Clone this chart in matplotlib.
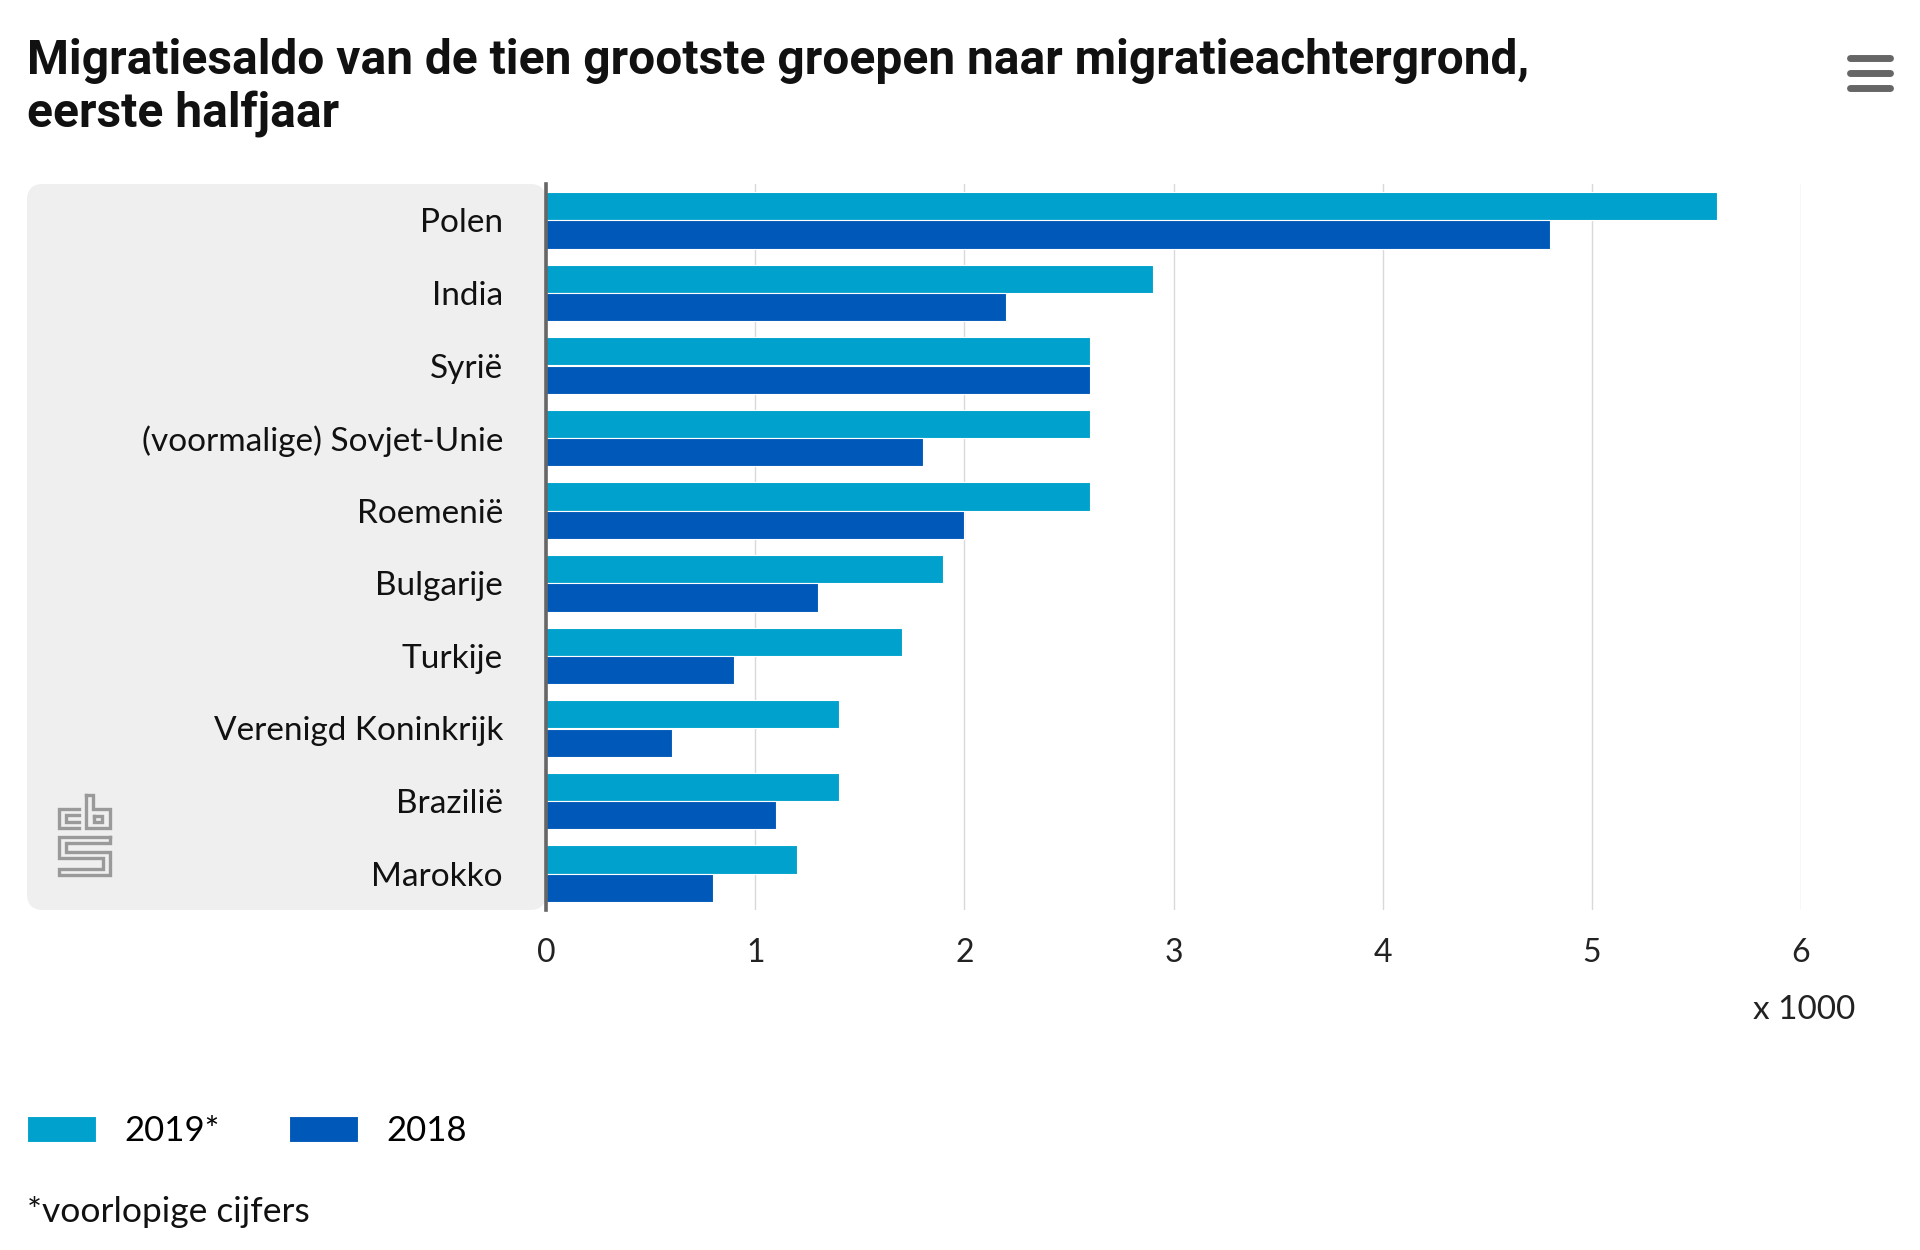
import matplotlib
matplotlib.use("Agg")
import matplotlib.pyplot as plt
from matplotlib import font_manager
from matplotlib.patches import FancyBboxPatch
from matplotlib.lines import Line2D
import numpy as np

landen = ["Polen", "India", "Syrië", "(voormalige) Sovjet-Unie", "Roemenië",
          "Bulgarije", "Turkije", "Verenigd Koninkrijk", "Brazilië", "Marokko"]
saldo_2019 = [5.6, 2.9, 2.6, 2.6, 2.6, 1.9, 1.7, 1.4, 1.4, 1.2]
saldo_2018 = [4.8, 2.2, 2.6, 1.8, 2.0, 1.3, 0.9, 0.6, 1.1, 0.8]
x_ticks = [0, 1, 2, 3, 4, 5, 6]
series_labels = ["2019*", "2018"]

LICHTBLAUW = "#00a1cd"
DONKERBLAUW = "#0058b8"

W, H = 1920, 1250

installed = {f.name for f in font_manager.fontManager.ttflist}
narrow = "Liberation Sans Narrow" if "Liberation Sans Narrow" in installed else "Roboto"
regular = "Lato" if "Lato" in installed else "DejaVu Sans"
plt.rcParams["font.family"] = [regular, "DejaVu Sans"]


def fx(px):
    return px / W


def fy(py):
    return 1 - py / H


fig = plt.figure(figsize=(W / 100, H / 100), dpi=100)

# grey panel behind category labels
panel = FancyBboxPatch((0.27, (H - 910) / 100), 5.19, 7.26,
                       boxstyle="round,pad=0,rounding_size=0.16",
                       transform=fig.dpi_scale_trans, facecolor="#efefef",
                       edgecolor="none", zorder=-1)
fig.patches.append(panel)

ax = fig.add_axes([fx(546), fy(910), fx(1801) - fx(546), (910 - 184) / H])
ax.set_facecolor("none")

y = np.arange(len(landen))
h = 0.39
ax.barh(y - h / 2, saldo_2019, height=h, color=LICHTBLAUW, edgecolor="white",
        linewidth=0.8, label=series_labels[0], zorder=3)
ax.barh(y + h / 2, saldo_2018, height=h, color=DONKERBLAUW, edgecolor="white",
        linewidth=0.8, label=series_labels[1], zorder=3)

ax.set_xlim(0, 6)
ax.set_ylim(len(landen) - 0.5, -0.5)
ax.set_xticks(x_ticks)
ax.set_xticklabels([str(t) for t in x_ticks])
ax.set_yticks(y)
ax.set_yticklabels(landen)
ax.tick_params(axis="x", length=0, pad=20, labelsize=23, labelcolor="#222222")
ax.tick_params(axis="y", length=0, pad=31, labelsize=24, labelcolor="#111111")
ax.grid(axis="x", color="#d9d9d9", linewidth=1, zorder=0)
for s in ["top", "right", "bottom"]:
    ax.spines[s].set_visible(False)
ax.spines["left"].set_color("#666666")
ax.spines["left"].set_linewidth(2.6)
ax.spines["left"].set_zorder(4)

fig.text(fx(1855), fy(1010), "x 1000", ha="right", va="center", fontsize=24,
         color="#222222")

# title
fig.text(fx(27), fy(88), "Migratiesaldo van de tien grootste groepen naar migratieachtergrond,\neerste halfjaar",
         ha="left", va="center", fontsize=34.5, fontweight="bold", family=narrow,
         linespacing=1.17, color="#111111")

# hamburger menu
for yy in [58, 73, 88]:
    fig.add_artist(Line2D([fx(1850), fx(1890)], [fy(yy), fy(yy)], color="#666666",
                          linewidth=5, solid_capstyle="round"))

# cbs logo
logo_grey = "#9a9a9a"
logo_paths = [
    [(70, 809), (52, 809), (52, 828), (70, 828)],
    [(70, 815), (58, 815), (58, 822), (70, 822)],
    [(76, 795), (76, 828), (97, 828), (97, 809), (82, 809), (82, 795), (76, 795)],
    [(83, 816), (90, 816), (90, 822), (83, 822), (83, 816)],
    [(97, 837), (52, 837), (52, 858), (91, 858), (91, 869), (52, 869), (52, 875),
     (97, 875), (97, 852), (58, 852), (58, 843), (97, 843), (97, 837)],
]
for p in logo_paths:
    xs = [fx(59 + (a - 52) * 1.13) for a, b in p]
    ys = [fy(b) for a, b in p]
    fig.add_artist(Line2D(xs, ys, color=logo_grey, linewidth=2.4,
                          solid_joinstyle="miter"))

# legend
handles, labels = ax.get_legend_handles_labels()
fig.legend(handles, labels, loc="center left", bbox_to_anchor=(fx(27), fy(1131)),
           ncol=2, frameon=False, fontsize=25, handlelength=2.0, handleheight=0.78,
           handletextpad=0.8, columnspacing=2.0, borderpad=0, borderaxespad=0)

fig.text(fx(27), fy(1212), "*voorlopige cijfers", ha="left", va="center",
         fontsize=25.5, color="#111111")

fig.savefig("out.png", dpi=100, facecolor="white")
